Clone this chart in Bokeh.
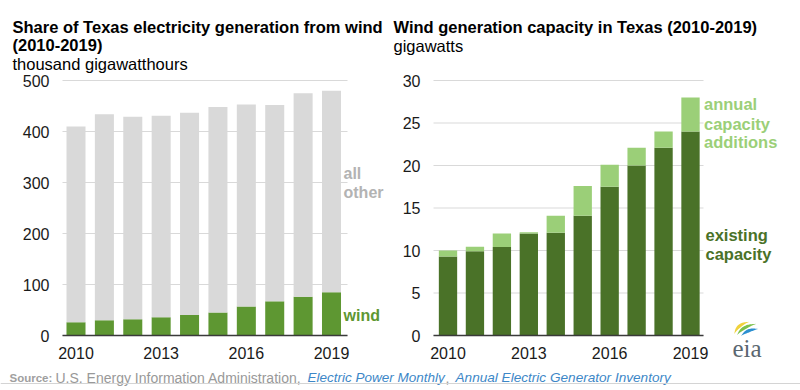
import numpy as np
from bokeh.plotting import figure
from bokeh.models import Range1d, FixedTicker, Label, Span, PolyAnnotation, ColumnDataSource
from bokeh.layouts import column, row
from bokeh.embed import file_html
from bokeh.resources import INLINE

# ---------------- data ----------------
years = [2010, 2011, 2012, 2013, 2014, 2015, 2016, 2017, 2018, 2019]
total_generation = [410, 434, 429, 431, 437, 448, 453, 452, 475, 480]   # thousand GWh
wind_generation = [26, 30, 32, 36, 40, 45, 57, 67, 76, 85]              # thousand GWh
existing_capacity = [9.3, 9.9, 10.4, 12.0, 12.1, 14.1, 17.5, 20.0, 22.1, 24.0]  # GW
capacity_additions = [0.7, 0.55, 1.6, 0.15, 2.0, 3.5, 2.6, 2.1, 1.9, 4.0]       # GW
year_ticks = [2010, 2013, 2016, 2019]
generation_ticks = [0, 100, 200, 300, 400, 500]
capacity_ticks = [0, 5, 10, 15, 20, 25, 30]

FONT = "Liberation Sans"
GRAY_BAR = "#d9d9d9"
WIND_GREEN = "#5e9732"
DARK_GREEN = "#4a7228"
LIGHT_GREEN = "#9bcf78"
TEXT = "#1a1a1a"

other_generation = [t - w for t, w in zip(total_generation, wind_generation)]
total_capacity = [e + a for e, a in zip(existing_capacity, capacity_additions)]

CHART_H = 362
SRC_H = 28


class Mapper:
    """page pixel <-> data mapping for a chart figure whose frame fills the canvas"""
    def __init__(self, left, width, c0, c9, y_zero, y_top, v_top, f0, f1):
        self.left, self.width = left, width
        self.kx = (c9 - c0) / 9.0
        self.c0 = c0
        self.ky = (y_zero - y_top) / v_top
        self.y_zero = y_zero
        self.f0, self.f1 = f0, f1

    def X(self, px):
        return years[0] + (px - self.c0) / self.kx

    def Y(self, py):
        return (self.y_zero - py) / self.ky

    def xr(self):
        return Range1d(self.X(self.left), self.X(self.left + self.width))

    def yr(self):
        return Range1d(self.Y(CHART_H), self.Y(0))


def make_chart(m, ticks, standoff_y):
    p = figure(width=m.width, height=CHART_H, output_backend="svg", toolbar_location=None,
               x_range=m.xr(), y_range=m.yr(), min_border=0)
    p.outline_line_color = None
    p.background_fill_color = "white"
    p.border_fill_color = "white"
    p.grid.visible = False
    x_lo, x_hi = m.X(m.f0), m.X(m.f1)
    # horizontal gridlines over the plotting area only
    p.segment(x0=[x_lo] * len(ticks), x1=[x_hi] * len(ticks), y0=ticks, y1=ticks,
              line_color="#d9d9d9", line_width=1)
    p.xaxis.ticker = FixedTicker(ticks=year_ticks)
    p.yaxis.ticker = FixedTicker(ticks=ticks)
    p.xaxis.fixed_location = 0
    p.yaxis.fixed_location = x_lo
    p.xaxis.bounds = (x_lo, x_hi)
    for ax in (p.xaxis[0], p.yaxis[0]):
        ax.major_label_text_font = FONT
        ax.major_label_text_font_size = "16px"
        ax.major_label_text_color = TEXT
        ax.major_tick_line_color = None
        ax.minor_tick_line_color = None
        ax.major_tick_out = 0
        ax.major_tick_in = 0
    p.yaxis.axis_line_color = None
    p.yaxis.major_label_standoff = standoff_y
    p.xaxis.axis_line_color = "#3a3a3a"
    p.xaxis.axis_line_width = 1.5
    p.xaxis.major_label_standoff = 11
    return p


def add_text(p, txt, x, y, color, size="16.5px", bold=False, italic=False,
             baseline="alphabetic", font=FONT):
    style_ = "bold" if bold else ("italic" if italic else "normal")
    p.add_layout(Label(x=x, y=y, text=txt, text_font=font, text_font_size=size,
                       text_font_style=style_, text_color=color,
                       text_baseline=baseline, text_align="left"))


# ---------------- left chart ----------------
ml = Mapper(left=0, width=392, c0=75.5, c9=331.0, y_zero=335, y_top=80, v_top=500, f0=62, f1=347)
left = make_chart(ml, generation_ticks, 13)
src_l = ColumnDataSource(dict(year=years, wind=wind_generation, other=other_generation,
                              total=total_generation))
left.vbar(x="year", width=0.67, bottom=0, top="wind", source=src_l,
          fill_color=WIND_GREEN, line_color=None)
left.vbar(x="year", width=0.67, bottom="wind", top="total", source=src_l,
          fill_color=GRAY_BAR, line_color=None)

add_text(left, "Share of Texas electricity generation from wind", ml.X(12), ml.Y(26), "#000000", bold=True)
add_text(left, "(2010-2019)", ml.X(12), ml.Y(44), "#000000", bold=True)
add_text(left, "thousand gigawatthours", ml.X(12), ml.Y(63.5), "#000000")
add_text(left, "all", ml.X(343), ml.Y(173), "#b3b3b3", size="16px", bold=True, baseline="middle")
add_text(left, "other", ml.X(343), ml.Y(192), "#b3b3b3", size="16px", bold=True, baseline="middle")
add_text(left, "wind", ml.X(343), ml.Y(315), WIND_GREEN, size="16px", bold=True, baseline="middle")

# ---------------- right chart ----------------
mr = Mapper(left=392, width=408, c0=447.5, c9=690.0, y_zero=335, y_top=80, v_top=30, f0=433, f1=703)
right = make_chart(mr, capacity_ticks, 13)
src_r = ColumnDataSource(dict(year=years, existing=existing_capacity, total=total_capacity))
right.vbar(x="year", width=0.68, bottom=0, top="existing", source=src_r,
           fill_color=DARK_GREEN, line_color=None)
right.vbar(x="year", width=0.68, bottom="existing", top="total", source=src_r,
           fill_color=LIGHT_GREEN, line_color=None)

add_text(right, "Wind generation capacity in Texas (2010-2019)", mr.X(393), mr.Y(26), "#000000", bold=True)
add_text(right, "gigawatts", mr.X(393), mr.Y(45), "#000000")
for txt, py in [("annual", 103.3), ("capacity", 123.3), ("additions", 141.7)]:
    add_text(right, txt, mr.X(703.5), mr.Y(py), LIGHT_GREEN, size="16.5px", bold=True, baseline="middle")
for txt, py in [("existing", 234.3), ("capacity", 253.3)]:
    add_text(right, txt, mr.X(705), mr.Y(py), DARK_GREEN, size="16.5px", bold=True, baseline="middle")

# eia logo: text and three coloured swooshes
add_text(right, "eia", mr.X(732), mr.Y(348), "#5b6770", size="25px", font="Liberation Serif")


def swoosh(p0, ctrl, p1, w):
    t = np.linspace(0, 1, 30)[:, None]
    a, c, b = np.array(p0), np.array(ctrl), np.array(p1)
    pts = (1 - t) ** 2 * a + 2 * (1 - t) * t * c + t ** 2 * b
    d = np.gradient(pts, axis=0)
    n = np.stack([-d[:, 1], d[:, 0]], axis=1)
    n /= np.linalg.norm(n, axis=1)[:, None]
    half = (w / 2) * np.sin(np.pi * np.clip(t[:, 0], 0.05, 0.95))[:, None]
    outer, inner = pts + n * half, pts - n * half
    poly = np.vstack([outer, inner[::-1]])
    return [mr.X(x) for x in poly[:, 0]], [mr.Y(y) for y in poly[:, 1]]


for p0, ctrl, p1, col in [((734, 333), (737, 324), (748, 321.5), "#f0d23c"),
                          ((737, 334), (742, 326), (755, 323.5), "#7cc04b"),
                          ((741, 335), (747, 329), (757, 328.5), "#2b8fd0")]:
    xs, ys = swoosh(p0, ctrl, p1, 3.2)
    right.add_layout(PolyAnnotation(xs=xs, ys=ys, fill_color=col, fill_alpha=1, line_color=None))

# ---------------- source line ----------------
src_fig = figure(width=800, height=SRC_H, output_backend="svg", toolbar_location=None,
                 x_range=Range1d(0, 800), y_range=Range1d(390, CHART_H),
                 x_axis_type=None, y_axis_type=None, min_border=0)
src_fig.outline_line_color = None
src_fig.grid.visible = False
add_text(src_fig, "Source:", 9, 377, "#a0a0a0", size="11.5px", bold=True)
add_text(src_fig, "U.S. Energy Information Administration,", 55, 377, "#999999", size="14px")
add_text(src_fig, "Electric Power Monthly", 307, 377, "#3d87c7", size="13.5px", italic=True)
add_text(src_fig, ",", 445, 377, "#999999", size="14px")
add_text(src_fig, "Annual Electric Generator Inventory", 455, 377, "#3d87c7", size="13.6px", italic=True)
src_fig.add_layout(Span(location=383, dimension="width", line_color="#d4d4d4", line_width=1))

layout = column(row(left, right, spacing=0), src_fig, spacing=0)

with open("out.html", "w") as f:
    f.write(file_html(layout, INLINE))
